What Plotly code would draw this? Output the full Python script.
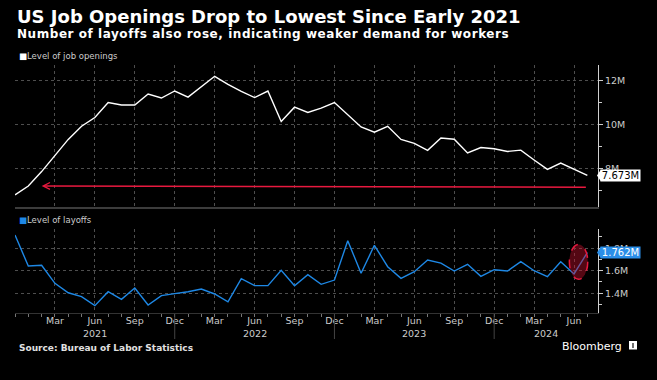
import plotly.graph_objects as go

# ---------------- data ----------------
months = ["Dec 2020",
          "Jan 2021", "Feb 2021", "Mar 2021", "Apr 2021", "May 2021", "Jun 2021",
          "Jul 2021", "Aug 2021", "Sep 2021", "Oct 2021", "Nov 2021", "Dec 2021",
          "Jan 2022", "Feb 2022", "Mar 2022", "Apr 2022", "May 2022", "Jun 2022",
          "Jul 2022", "Aug 2022", "Sep 2022", "Oct 2022", "Nov 2022", "Dec 2022",
          "Jan 2023", "Feb 2023", "Mar 2023", "Apr 2023", "May 2023", "Jun 2023",
          "Jul 2023", "Aug 2023", "Sep 2023", "Oct 2023", "Nov 2023", "Dec 2023",
          "Jan 2024", "Feb 2024", "Mar 2024", "Apr 2024", "May 2024", "Jun 2024",
          "Jul 2024"]

job_openings = [6.79,
                7.19, 7.85, 8.60, 9.32, 9.92, 10.32, 11.00, 10.89, 10.89, 11.39, 11.21, 11.53,
                11.25, 11.74, 12.20, 11.83, 11.51, 11.23, 11.53, 10.14, 10.79, 10.55, 10.75, 11.00,
                10.45, 9.89, 9.65, 9.92, 9.32, 9.14, 8.82, 9.38, 9.33, 8.70, 8.95, 8.89,
                8.77, 8.83, 8.38, 7.95, 8.24, 7.95, 7.673]

layoffs = [1.917,
           1.642, 1.648, 1.488, 1.404, 1.369, 1.289, 1.413, 1.346, 1.446, 1.295, 1.378, 1.396,
           1.413, 1.437, 1.393, 1.324, 1.529, 1.467, 1.467, 1.603, 1.467, 1.565, 1.479, 1.517,
           1.867, 1.577, 1.826, 1.636, 1.532, 1.591, 1.695, 1.668, 1.597, 1.657, 1.550, 1.609,
           1.597, 1.680, 1.600, 1.547, 1.680, 1.571, 1.762]

quarter_labels = ["Mar", "Jun", "Sep", "Dec"]
years = ["2021", "2022", "2023", "2024"]
top_ticks = [8, 10, 12]
bottom_ticks = [1.4, 1.6, 1.8]

# ---------------- layout helpers ----------------
W, H = 657, 380
L, R, T, B = 15, 59, 65, 67
PW, PH = W - L - R, H - T - B
FONT = "DejaVu Sans"
WHITE = "#ffffff"
BLUE = "#1e88e5"
RED = "#e8193f"
GRID = "#4e4e4e"
TXT = "#cccccc"


def py(p):
    return (H - B - p) / PH


def px(p):
    return (p - L) / PW


x = list(range(len(months)))
xr = [0, 43.8]
yr_top = [6.233, 12.717]
yr_bot = [1.224, 1.971]

qidx = [i for i, m in enumerate(months) if m[:3] in quarter_labels]
qtext = [months[i][:3] for i in qidx]
dec_idx = [i for i, m in enumerate(months) if m.startswith("Dec")]

fig = go.Figure()
fig.add_trace(go.Scatter(x=x, y=job_openings, mode="lines",
                         line=dict(color=WHITE, width=1.4),
                         xaxis="x", yaxis="y", hoverinfo="skip", showlegend=False))
fig.add_trace(go.Scatter(x=x, y=layoffs, mode="lines",
                         line=dict(color=BLUE, width=1.4),
                         xaxis="x2", yaxis="y2", hoverinfo="skip", showlegend=False))

grid = dict(showgrid=True, gridcolor=GRID, griddash="dot", gridwidth=1, zeroline=False)

fig.update_layout(
    width=W, height=H, margin=dict(l=L, r=R, t=T, b=B, autoexpand=False),
    paper_bgcolor="black", plot_bgcolor="black",
    font=dict(family=FONT, color=TXT),
    xaxis=dict(domain=[0, 1], anchor="y", range=xr, tickmode="array",
               tickvals=[0] + qidx, showticklabels=False, ticks="",
               showline=True, linecolor="#3c3c3c", linewidth=2, **grid),
    xaxis2=dict(domain=[0, 1], anchor="y2", range=xr, tickmode="array",
                tickvals=[0] + qidx, ticktext=[""] + qtext,
                ticks="outside", ticklen=3, tickcolor="#777",
                ticklabelstandoff=-4,
                tickfont=dict(color=TXT, size=9.5, family=FONT),
                showline=True, linecolor="#333", linewidth=1,
                minor=dict(tickmode="linear", tick0=0, dtick=1, ticks="outside",
                           ticklen=3, tickcolor="#777", showgrid=False),
                **grid),
    yaxis=dict(domain=[py(207), 1], anchor="x", side="right", range=yr_top,
               tickmode="array", tickvals=top_ticks,
               ticktext=[f"{v}M" for v in top_ticks],
               ticks="outside", ticklen=4, tickcolor=TXT,
               showline=True, linecolor="#d0d0d0", linewidth=1,
               tickfont=dict(color=TXT, size=9.5, family=FONT),
               minor=dict(tickmode="linear", tick0=0, dtick=1, ticks="outside",
                          ticklen=3, tickcolor=TXT, showgrid=False),
               **grid),
    yaxis2=dict(domain=[0, py(229)], anchor="x2", side="right", range=yr_bot,
                tickmode="array", tickvals=bottom_ticks,
                ticktext=[f"{v}M" for v in bottom_ticks],
                ticks="outside", ticklen=4, tickcolor=TXT,
                showline=True, linecolor="#d0d0d0", linewidth=1,
                tickfont=dict(color=TXT, size=9.5, family=FONT),
                minor=dict(tickmode="linear", tick0=1.3, dtick=0.1, ticks="outside",
                           ticklen=3, tickcolor=TXT, showgrid=False),
                **grid),
)

# ---------------- titles / legends / footer ----------------
fig.add_annotation(xref="paper", yref="paper", x=px(15), y=py(16.5), xanchor="left",
                   yanchor="middle", showarrow=False,
                   text="<b>US Job Openings Drop to Lowest Since Early 2021</b>",
                   font=dict(family=FONT, size=18, color=WHITE))
fig.add_annotation(xref="paper", yref="paper", x=px(15), y=py(33.5), xanchor="left",
                   yanchor="middle", showarrow=False,
                   text="<span style='letter-spacing:0.55px'><b>Number of layoffs also rose, "
                        "indicating weaker demand for workers</b></span>",
                   font=dict(family=FONT, size=12, color=WHITE))
fig.add_annotation(xref="paper", yref="paper", x=px(17), y=py(56), xanchor="left",
                   yanchor="middle", showarrow=False,
                   text=f"<span style='color:{WHITE}'>■</span>Level of job openings",
                   font=dict(family=FONT, size=8.5, color=TXT))
fig.add_annotation(xref="paper", yref="paper", x=px(17), y=py(219.5), xanchor="left",
                   yanchor="middle", showarrow=False,
                   text=f"<span style='color:{BLUE}'>■</span>Level of layoffs",
                   font=dict(family=FONT, size=8.5, color=TXT))
fig.add_annotation(xref="paper", yref="paper", x=px(17), y=py(347.5), xanchor="left",
                   yanchor="middle", showarrow=False,
                   text="<b>Source: Bureau of Labor Statistics</b>",
                   font=dict(family=FONT, size=9, color="#e0e0e0"))
fig.add_annotation(xref="paper", yref="paper", x=px(624), y=py(346), xanchor="right",
                   yanchor="middle", showarrow=False, text="Bloomberg",
                   font=dict(family=FONT, size=11, color=WHITE))
fig.add_shape(type="rect", xref="paper", yref="paper",
              x0=px(629), x1=px(637), y0=py(349.5), y1=py(341),
              fillcolor=WHITE, line=dict(width=0))
fig.add_shape(type="rect", xref="paper", yref="paper",
              x0=px(632.3), x1=px(633.7), y0=py(348), y1=py(343),
              fillcolor="#333", line=dict(width=0))

# year labels and separators
year_bounds = dec_idx + [xr[1]]
for k, yname in enumerate(years):
    mid = (year_bounds[k] + year_bounds[k + 1]) / 2
    fig.add_annotation(xref="x2", yref="paper", x=mid, y=py(333), yanchor="middle",
                       showarrow=False, text=yname,
                       font=dict(family=FONT, size=9.5, color=TXT))
for d in dec_idx[1:]:
    fig.add_shape(type="line", xref="x2", yref="paper", x0=d, x1=d,
                  y0=py(314), y1=py(339), line=dict(color="#444", width=1))


# ---------------- last value labels ----------------
def value_tag(yref, val, bg, fg):
    fig.add_annotation(xref="paper", yref=yref, x=1, y=val, xanchor="left",
                       yanchor="middle", xshift=2, showarrow=False,
                       text=f"{val:.3f}M", bgcolor=bg, borderpad=0, width=39,
                       font=dict(family=FONT, size=10, color=fg))
    fig.add_shape(type="path", xref="paper", yref=yref, xsizemode="pixel",
                  ysizemode="pixel", xanchor=1, yanchor=val,
                  path="M -1,0 L 3,6 L 3,-6 Z", fillcolor=bg, line=dict(width=0))


value_tag("y", job_openings[-1], WHITE, "black")
value_tag("y2", layoffs[-1], "#2b8ee8", WHITE)

# ---------------- red arrow (top) ----------------
fig.add_annotation(xref="x", yref="y", axref="x", ayref="y",
                   x=2, y=7.195, ax=len(months) - 1, ay=7.136,
                   text="", showarrow=True, arrowhead=5, arrowsize=0.9,
                   arrowwidth=1.5, arrowcolor=RED)

# ---------------- red ellipse (bottom) ----------------
cx, cy = len(months) - 1 - 0.66, layoffs[-1] - 0.083
fig.add_shape(type="circle", xref="x2", yref="y2", layer="above",
              x0=cx - 0.69, x1=cx + 0.69, y0=cy - 0.155, y1=cy + 0.155,
              fillcolor="rgba(200,16,46,0.42)",
              line=dict(color=RED, width=1.5, dash="dash"))

fig.write_html("out.html", config={"displayModeBar": False},
               post_script="document.body.style.margin='0';"
                           "document.body.style.background='black';")
